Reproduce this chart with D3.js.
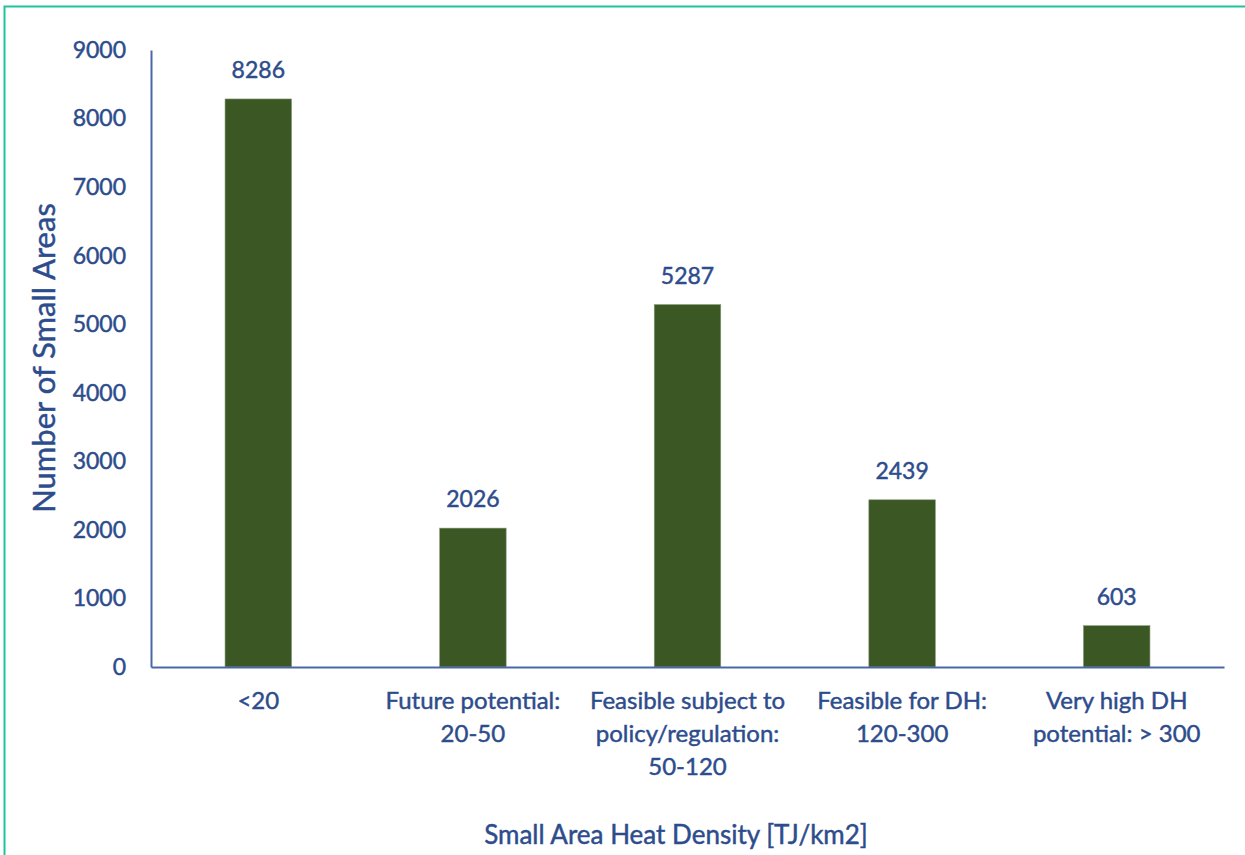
<!DOCTYPE html>
<html>
<head>
<meta charset="utf-8">
<script src="https://cdn.jsdelivr.net/npm/d3@7"></script>
<style>
  body { margin: 0; background: #fff; }
  svg { display: block; font-family: Lato, "Open Sans", sans-serif; }
</style>
</head>
<body>
<script>
const categories = [
  ["<20"],
  ["Future potential:", "20-50"],
  ["Feasible subject to", "policy/regulation:", "50-120"],
  ["Feasible for DH:", "120-300"],
  ["Very high DH", "potential: > 300"]
];
const values = [8286, 2026, 5287, 2439, 603];
const yTicks = [0, 1000, 2000, 3000, 4000, 5000, 6000, 7000, 8000, 9000];

const width = 1245, height = 855;
const textColor = "#2d4c8c";
const axisColor = "#4a68a6";
const barColor = "#3b5724";

const svg = d3.select("body").append("svg")
    .attr("width", width)
    .attr("height", height);

// outer frame, runs off the right and bottom edges
svg.append("rect")
    .attr("x", 4.5).attr("y", 6.5)
    .attr("width", 1260).attr("height", 870)
    .attr("fill", "none")
    .attr("stroke", "#1fc49b")
    .attr("stroke-width", 2);

const x = d3.scaleBand()
    .domain(d3.range(values.length))
    .range([151, 1224])
    .paddingInner(0.69)
    .paddingOuter(0.345);

const y = d3.scaleLinear()
    .domain([0, 9000])
    .range([667, 50]);

// text looks a little heavier in the original
function styleText(sel, size) {
  sel.attr("fill", textColor)
     .attr("stroke", textColor)
     .attr("stroke-width", 0.45)
     .attr("font-size", size)
     .attr("font-family", "Lato, sans-serif");
}

// y axis
const yAxis = svg.append("g")
    .attr("transform", "translate(151,0)")
    .call(d3.axisLeft(y).tickValues(yTicks).tickFormat(d3.format("d")).tickSize(0).tickPadding(25));
yAxis.select(".domain").attr("stroke", axisColor).attr("stroke-width", 2);
yAxis.selectAll("text").call(styleText, 23);

// bars
svg.append("g")
  .selectAll("rect")
  .data(values)
  .join("rect")
    .attr("x", (d, i) => x(i))
    .attr("y", d => y(d))
    .attr("width", x.bandwidth())
    .attr("height", d => y(0) - y(d))
    .attr("fill", barColor)
    .attr("stroke", "#8a9a7e")
    .attr("stroke-width", 0.6);

// value labels
svg.append("g")
  .selectAll("text")
  .data(values)
  .join("text")
    .attr("x", (d, i) => x(i) + x.bandwidth() / 2)
    .attr("y", d => y(d) - 21)
    .attr("text-anchor", "middle")
    .call(styleText, 23)
    .text(d => d);

// x axis
const xAxis = svg.append("g")
    .attr("transform", "translate(0,667)")
    .call(d3.axisBottom(x).tickSize(0).tickFormat(""));
xAxis.select(".domain").attr("stroke", axisColor).attr("stroke-width", 2);

// category labels, multi-line
const catLabels = svg.append("g")
  .selectAll("text")
  .data(categories)
  .join("text")
    .attr("x", (d, i) => x(i) + x.bandwidth() / 2)
    .attr("y", 709)
    .attr("text-anchor", "middle")
    .call(styleText, 24);
catLabels.selectAll("tspan")
  .data(d => d)
  .join("tspan")
    .attr("x", function() { return this.parentNode.getAttribute("x"); })
    .attr("dy", (d, i) => i === 0 ? 0 : 33)
    .text(d => d);

// axis titles
svg.append("text")
    .attr("x", 676)
    .attr("y", 844)
    .attr("text-anchor", "middle")
    .call(styleText, 26)
    .text("Small Area Heat Density [TJ/km2]");

svg.append("text")
    .attr("transform", "translate(55,358) rotate(-90)")
    .attr("text-anchor", "middle")
    .call(styleText, 31)
    .text("Number of Small Areas");
</script>
</body>
</html>
